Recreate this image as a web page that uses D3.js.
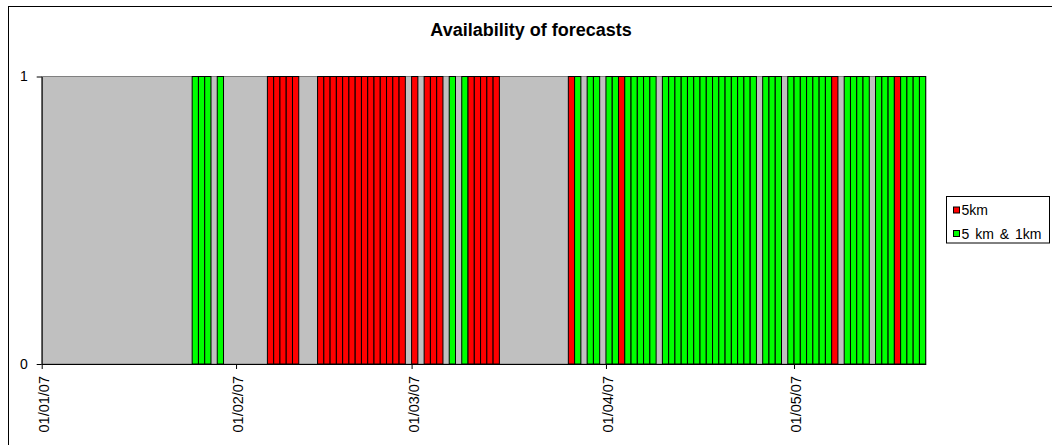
<!DOCTYPE html>
<html>
<head>
<meta charset="utf-8">
<script src="https://cdn.jsdelivr.net/npm/d3@7"></script>
<style>
  body { margin: 0; background: #fff; }
  svg text { font-family: "Liberation Sans", Arial, sans-serif; }
</style>
</head>
<body>
<div id="chart"></div>
<script>
const w = 1052;
const h = 445;

// one value per day, 01/01/07 .. 21/05/07 (rows of 7 days)
const startDate = "2007-01-01";
const endDate = "2007-05-22";

const fiveKm = [
    0,0,0,0,0,0,0,
    0,0,0,0,0,0,0,
    0,0,0,0,0,0,0,
    0,0,0,0,0,0,0,
    0,0,0,0,0,0,0,
    0,1,1,1,1,1,0,
    0,0,1,1,1,1,1,
    1,1,1,1,1,1,1,
    1,1,0,1,0,1,1,
    1,0,0,0,0,1,1,
    1,1,1,0,0,0,0,
    0,0,0,0,0,0,0,
    1,0,0,0,0,0,0,
    0,1,0,0,0,0,0,
    0,0,0,0,0,0,0,
    0,0,0,0,0,0,0,
    0,0,0,0,0,0,0,
    0,0,0,0,0,0,0,
    1,0,0,0,0,0,0,
    0,0,0,1,0,0,0,
    0
];

const fiveAndOneKm = [
    0,0,0,0,0,0,0,
    0,0,0,0,0,0,0,
    0,0,0,0,0,0,0,
    0,0,0,1,1,1,0,
    1,0,0,0,0,0,0,
    0,0,0,0,0,0,0,
    0,0,0,0,0,0,0,
    0,0,0,0,0,0,0,
    0,0,0,0,0,0,0,
    0,0,1,0,1,0,0,
    0,0,0,0,0,0,0,
    0,0,0,0,0,0,0,
    0,1,0,1,1,0,1,
    1,0,1,1,1,1,1,
    0,1,1,1,1,1,1,
    1,1,1,1,1,1,1,
    1,1,0,1,1,1,0,
    1,1,1,1,1,1,1,
    0,0,1,1,1,1,0,
    1,1,1,0,1,1,1,
    1
];

const seriesNames = ["5km", "5 km & 1km"];
const seriesColors = ["#ff0000", "#00ff00"];
const yTicks = [0, 1];

const parse = d3.timeParse("%Y-%m-%d");
const days = d3.timeDay.range(parse(startDate), parse(endDate));

const plot = { left: 41.7, right: 925.7, top: 76.5, bottom: 364 };

const svg = d3.select("#chart").append("svg").attr("width", w).attr("height", h);

//outer chart border (right/bottom fall outside the picture)
svg.append("rect")
    .attr("x", 8.5).attr("y", 6.5)
    .attr("width", 1100).attr("height", 500)
    .attr("fill", "none").attr("stroke", "#000");

const x = d3.scaleTime()
    .domain([parse(startDate), parse(endDate)])
    .range([plot.left, plot.right]);

const y = d3.scaleLinear()
    .domain([0, 1])
    .range([plot.bottom, plot.top]);

//plot area
svg.append("rect")
    .attr("x", plot.left).attr("y", plot.top)
    .attr("width", plot.right - plot.left).attr("height", plot.bottom - plot.top)
    .attr("fill", "#c0c0c0").attr("stroke", "#808080");

//bars
const bars = [];
days.forEach((d, i) => {
    if (fiveKm[i]) bars.push({ day: d, value: fiveKm[i], s: 0 });
    if (fiveAndOneKm[i]) bars.push({ day: d, value: fiveAndOneKm[i], s: 1 });
});

svg.append("g").selectAll("rect")
    .data(bars)
    .enter().append("rect")
    .attr("x", d => x(d.day))
    .attr("y", d => y(d.value))
    .attr("width", d => x(d3.timeDay.offset(d.day, 1)) - x(d.day))
    .attr("height", d => y(0) - y(d.value))
    .attr("fill", d => seriesColors[d.s])
    .attr("stroke", "#000")
    .attr("stroke-width", 1);

//axes
const yAxis = svg.append("g")
    .attr("transform", "translate(" + plot.left + ",0)")
    .call(d3.axisLeft(y).tickValues(yTicks).tickFormat(d3.format("d")).tickSize(5).tickSizeOuter(0).tickPadding(9));

const xAxis = svg.append("g")
    .attr("transform", "translate(0," + plot.bottom + ")")
    .call(d3.axisBottom(x).ticks(d3.timeMonth.every(1)).tickFormat(d3.timeFormat("%d/%m/%y")).tickSize(5).tickSizeOuter(0));

[yAxis, xAxis].forEach(a => {
    a.select(".domain").attr("stroke", "#000");
    a.selectAll(".tick line").attr("stroke", "#000");
    a.selectAll("text").attr("fill", "#000").style("font-size", "14px");
});

xAxis.selectAll("text")
    .attr("text-anchor", "end")
    .attr("transform", "translate(1.5,12) rotate(-90)")
    .attr("x", 0)
    .attr("y", 0)
    .attr("dy", "0.35em")
    .style("font-size", "14.5px");

//title
svg.append("text")
    .attr("x", 531).attr("y", 36)
    .attr("text-anchor", "middle")
    .style("font-size", "18px")
    .style("font-weight", "bold")
    .text("Availability of forecasts");

//legend
const legend = svg.append("g").attr("transform", "translate(946.5,196.5)");
legend.append("rect")
    .attr("width", 103).attr("height", 46.5)
    .attr("fill", "#fff").attr("stroke", "#000");

const item = legend.selectAll("g")
    .data(seriesNames)
    .enter().append("g")
    .attr("transform", (d, i) => "translate(7,"+ (10.5 + i * 23.5) + ")");

item.append("rect")
    .attr("width", 6).attr("height", 6)
    .attr("fill", (d, i) => seriesColors[i])
    .attr("stroke", "#000");

item.append("text")
    .attr("x", 8).attr("y", 8)
    .style("font-size", "14px")
    .style("word-spacing", "2px")
    .text(d => d);
</script>
</body>
</html>
